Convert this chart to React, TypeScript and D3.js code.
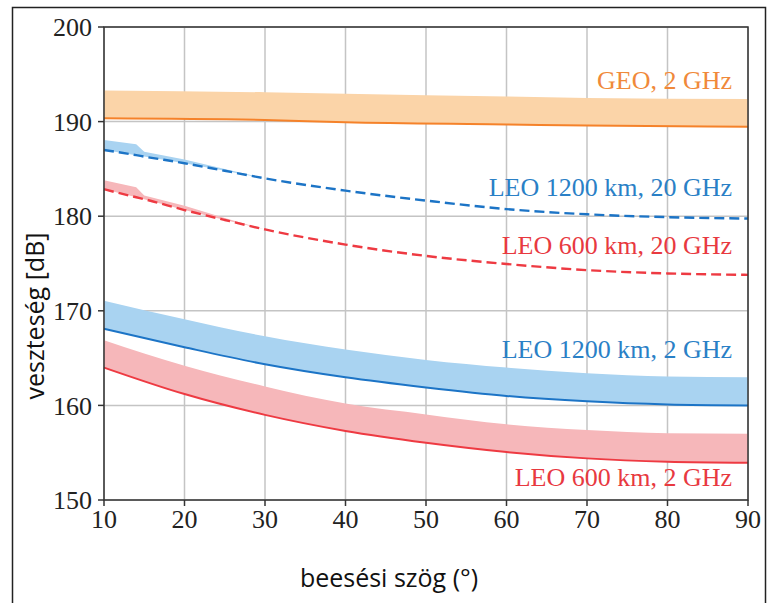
import { scaleLinear, line, area, curveMonotoneX, curveLinear } from 'd3';

const width = 767;
const height = 603;
const margin = { top: 27, right: 19, bottom: 103, left: 104 };

// incidence angle grid
const angles = [10, 20, 30, 40, 50, 60, 70, 80, 90];
const anglesFine = [10, 14, 15, 20, 25, 30, 40, 50, 60, 70, 80, 90];
const anglesGeo = [10, 30, 40, 60, 70, 90];

// GEO, 2 GHz
const geoLine = [190.35, 190.17, 189.93, 189.7, 189.58, 189.46];
const geoUpper = [193.3, 193.1, 192.95, 192.65, 192.5, 192.4];

// LEO 1200 km, 20 GHz
const leo1200hLine = [187.0, 186.45, 186.3, 185.6, 184.8, 184.0, 182.7, 181.65, 180.75, 180.2, 179.9, 179.75];
const leo1200hUpper = [188.05, 187.6, 186.8, 186.0, 185.0, 184.0, 182.7, 181.65, 180.75, 180.2, 179.9, 179.75];

// LEO 600 km, 20 GHz
const leo600hLine = [182.85, 182.0, 181.8, 180.65, 179.6, 178.6, 177.0, 175.8, 174.95, 174.3, 173.95, 173.8];
const leo600hUpper = [183.8, 183.05, 182.2, 181.1, 179.8, 178.6, 177.0, 175.8, 174.95, 174.3, 173.95, 173.8];

// LEO 1200 km, 2 GHz
const leo1200Line = [168.1, 166.15, 164.35, 162.97, 161.9, 161.0, 160.43, 160.1, 160.0];
const leo1200Upper = [171.07, 169.1, 167.3, 165.9, 164.8, 164.0, 163.4, 163.05, 162.97];

// LEO 600 km, 2 GHz
const leo600Line = [164.0, 161.2, 159.0, 157.3, 156.05, 155.07, 154.4, 154.05, 153.94];
const leo600Upper = [166.9, 164.2, 162.0, 160.2, 159.05, 158.0, 157.4, 157.05, 157.0];

const xTicks = [10, 20, 30, 40, 50, 60, 70, 80, 90];
const yTicks = [150, 160, 170, 180, 190, 200];

const serif = '"Liberation Serif", "DejaVu Serif", serif';
const sans = '"Open Sans", "Noto Sans", sans-serif';

function App() {
  const innerWidth = width - margin.left - margin.right;
  const innerHeight = height - margin.top - margin.bottom;

  const xScale = scaleLinear().domain([10, 90]).range([0, innerWidth]);
  const yScale = scaleLinear().domain([150, 200]).range([innerHeight, 0]);

  const mkLine = (xs: number[], ys: number[]) =>
    line<number>()
      .x((_, i) => xScale(xs[i]))
      .y(d => yScale(d))
      .curve(curveMonotoneX)(ys) as string;

  const mkBand = (xs: number[], lo: number[], hi: number[], curved: boolean) =>
    area<number>()
      .x((_, i) => xScale(xs[i]))
      .y0((_, i) => yScale(lo[i]))
      .y1(d => yScale(d))
      .curve(curved ? curveMonotoneX : curveLinear)(hi) as string;

  const series = [
    { xs: anglesGeo, lo: geoLine, hi: geoUpper, band: '#fbd4a8', stroke: '#f5822a', dash: null, curved: true },
    { xs: anglesFine, lo: leo1200hLine, hi: leo1200hUpper, band: '#a9d3f1', stroke: '#1c74c6', dash: '10,5', curved: false },
    { xs: anglesFine, lo: leo600hLine, hi: leo600hUpper, band: '#f6b7ba', stroke: '#ee3a42', dash: '10,5', curved: false },
    { xs: angles, lo: leo1200Line, hi: leo1200Upper, band: '#a9d3f1', stroke: '#1c74c6', dash: null, curved: true },
    { xs: angles, lo: leo600Line, hi: leo600Upper, band: '#f6b7ba', stroke: '#ee3a42', dash: null, curved: true },
  ];

  const labels = [
    { text: 'GEO, 2 GHz', y: 89, color: '#f0893a' },
    { text: 'LEO 1200 km, 20 GHz', y: 196, color: '#2a80c6' },
    { text: 'LEO 600 km, 20 GHz', y: 254, color: '#e8393f' },
    { text: 'LEO 1200 km, 2 GHz', y: 358, color: '#2a80c6' },
    { text: 'LEO 600 km, 2 GHz', y: 486, color: '#e8393f' },
  ];

  return (
    <svg width={width} height={height} style={{ position: 'absolute', left: 0, top: 0, background: 'white' }}>
      <rect x={12.5} y={7.5} width={753} height={640} fill='white' stroke='#222' strokeWidth={1.5} />
      <g transform={`translate(${margin.left}, ${margin.top})`}>
        {xTicks.map(t => (
          <line key={'gx' + t} x1={xScale(t)} x2={xScale(t)} y1={0} y2={innerHeight} stroke='#c4c4c4' strokeWidth={1.5} />
        ))}
        {yTicks.map(t => (
          <line key={'gy' + t} x1={0} x2={innerWidth} y1={yScale(t)} y2={yScale(t)} stroke='#c4c4c4' strokeWidth={1.5} />
        ))}
        {series.map((s, i) => (
          <path key={'b' + i} d={mkBand(s.xs, s.lo, s.hi, s.curved)} fill={s.band} stroke='none' />
        ))}
        {series.map((s, i) => (
          <path key={'l' + i} d={mkLine(s.xs, s.lo)} fill='none' stroke={s.stroke} strokeWidth={s.dash ? 2.4 : 2}
            strokeDasharray={s.dash ?? undefined} />
        ))}
        <rect x={0} y={0} width={innerWidth} height={innerHeight} fill='none' stroke='#333' strokeWidth={1.5} />
        {xTicks.map(t => (
          <g key={'tx' + t} transform={`translate(${xScale(t)}, ${innerHeight})`}>
            <line y2={6} stroke='#333' strokeWidth={1.5} />
            <text y={28} textAnchor='middle' fontFamily={serif} fontSize={26} fill='#222'>{t}</text>
          </g>
        ))}
        {yTicks.map(t => (
          <g key={'ty' + t} transform={`translate(0, ${yScale(t)})`}>
            <line x2={-6} stroke='#333' strokeWidth={1.5} />
            <text x={-12} dy='0.35em' textAnchor='end' fontFamily={serif} fontSize={26} fill='#222'>{t}</text>
          </g>
        ))}
      </g>
      {labels.map(l => (
        <text key={l.text} x={732} y={l.y} textAnchor='end' fontFamily={serif} fontSize={26} fill={l.color}>{l.text}</text>
      ))}
      <text x={389} y={587} textAnchor='middle' fontFamily={sans} fontSize={25} fill='#111'>beesési szög (°)</text>
      <text transform='translate(44, 316) rotate(-90)' textAnchor='middle' fontFamily={sans} fontSize={25} fill='#111'>veszteség [dB]</text>
    </svg>
  );
}

export default App;
